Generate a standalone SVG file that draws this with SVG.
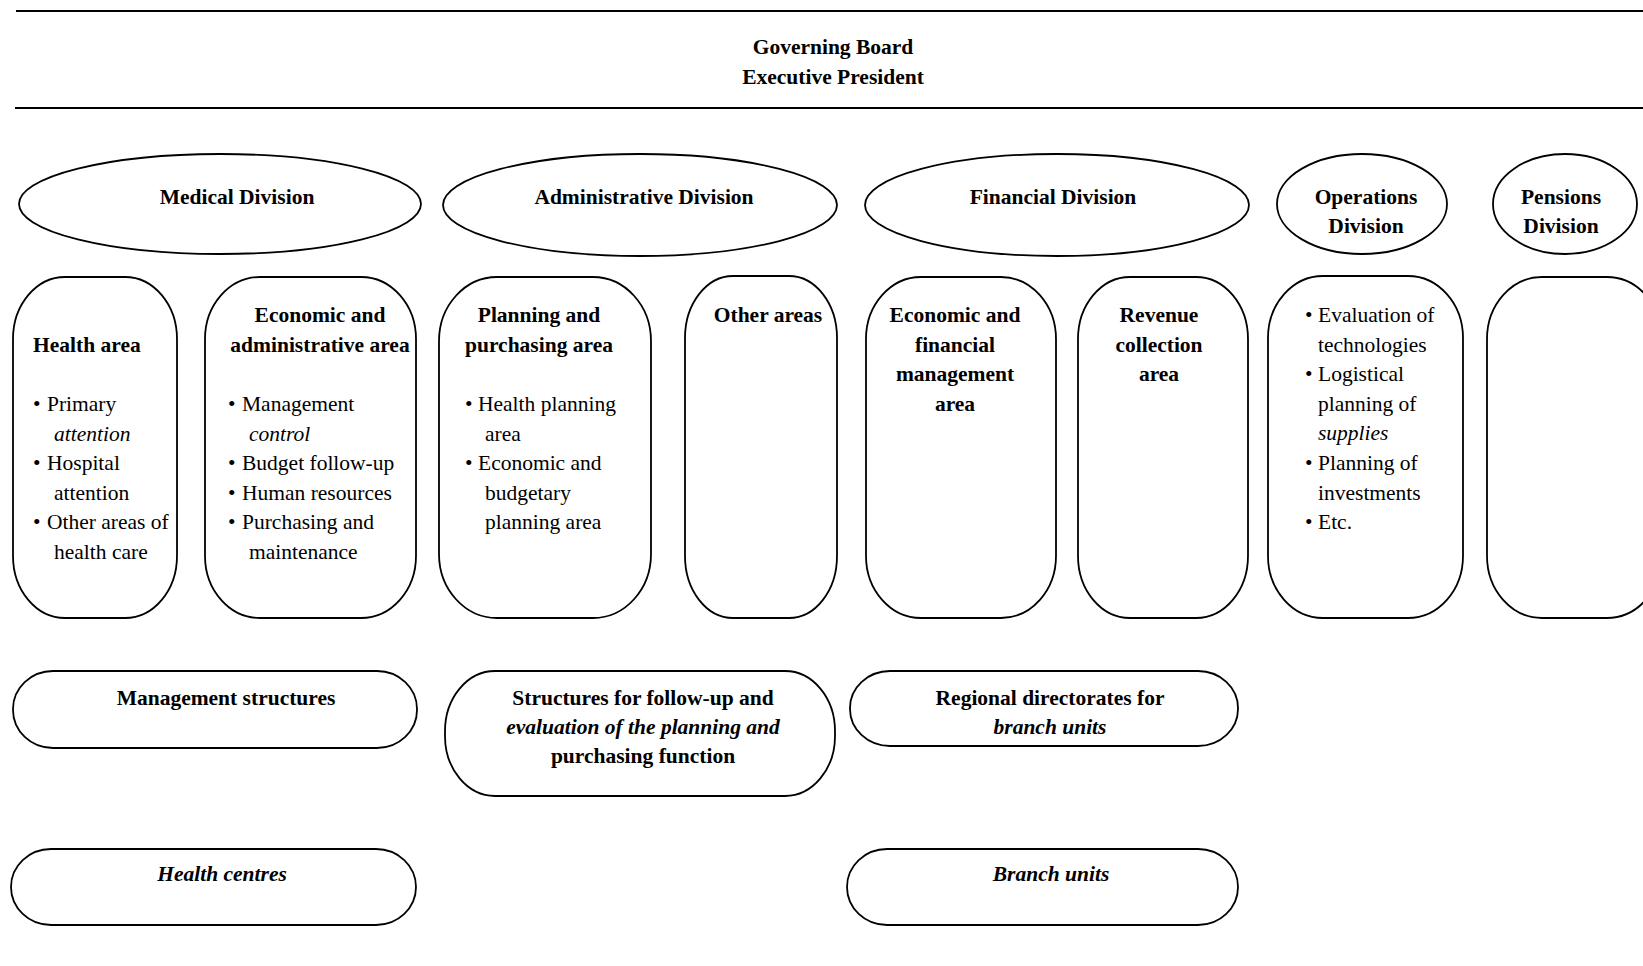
<svg xmlns="http://www.w3.org/2000/svg" width="1643" height="966" viewBox="0 0 1643 966">
<style>
.s{fill:none;stroke:#000;stroke-width:1.8}
.r{stroke:#000;stroke-width:2.2}
text{font-family:"Liberation Serif","Times New Roman",serif;font-size:21.5px;fill:#000}
.b{font-weight:bold}
.i{font-style:italic}
.c{text-anchor:middle}
</style>
<rect width="1643" height="966" fill="#fff"/>
<g id="header">
<line class="r" x1="16" y1="11" x2="1643" y2="11"/>
<line class="r" x1="15" y1="108" x2="1643" y2="108"/>
<text class="b c" x="833" y="54">Governing Board</text>
<text class="b c" x="833" y="84">Executive President</text>
</g>
<g id="medical-division">
<ellipse class="s" cx="220" cy="204" rx="201" ry="50"/>
<text class="b c" x="237" y="204">Medical Division</text>
</g>
<g id="administrative-division">
<ellipse class="s" cx="640" cy="205" rx="197" ry="51"/>
<text class="b c" x="644" y="204">Administrative Division</text>
</g>
<g id="financial-division">
<ellipse class="s" cx="1057" cy="205" rx="192" ry="51"/>
<text class="b c" x="1053" y="204">Financial Division</text>
</g>
<g id="operations-division">
<ellipse class="s" cx="1362" cy="204" rx="85" ry="50"/>
<text class="b c" x="1366" y="204">Operations</text>
<text class="b c" x="1366" y="233">Division</text>
</g>
<g id="pensions-division">
<ellipse class="s" cx="1565" cy="204" rx="72" ry="50"/>
<text class="b c" x="1561" y="204">Pensions</text>
<text class="b c" x="1561" y="233">Division</text>
</g>
<g id="health-area">
<rect class="s" x="13" y="277" width="164" height="341" rx="52" ry="62"/>
<text class="b" x="33" y="352">Health area</text>
<text x="33" y="411">•</text><text x="47" y="411">Primary</text>
<text class="i" x="54" y="440.5">attention</text>
<text x="33" y="470">•</text><text x="47" y="470">Hospital</text>
<text x="54" y="499.5">attention</text>
<text x="33" y="529">•</text><text x="47" y="529">Other areas of</text>
<text x="54" y="558.5">health care</text>
</g>
<g id="economic-administrative-area">
<rect class="s" x="205" y="277" width="211" height="341" rx="55" ry="62"/>
<text class="b c" x="320" y="322">Economic and</text>
<text class="b c" x="320" y="351.5">administrative area</text>
<text x="228" y="411">•</text><text x="242" y="411">Management</text>
<text class="i" x="249" y="440.5">control</text>
<text x="228" y="470">•</text><text x="242" y="470">Budget follow-up</text>
<text x="228" y="499.5">•</text><text x="242" y="499.5">Human resources</text>
<text x="228" y="529">•</text><text x="242" y="529">Purchasing and</text>
<text x="249" y="558.5">maintenance</text>
</g>
<g id="planning-purchasing-area">
<rect class="s" x="439" y="277" width="212" height="341" rx="58" ry="64"/>
<text class="b c" x="539" y="322">Planning and</text>
<text class="b c" x="539" y="351.5">purchasing area</text>
<text x="465" y="411">•</text><text x="478" y="411">Health planning</text>
<text x="485" y="440.5">area</text>
<text x="465" y="470">•</text><text x="478" y="470">Economic and</text>
<text x="485" y="499.5">budgetary</text>
<text x="485" y="529">planning area</text>
</g>
<g id="other-areas">
<rect class="s" x="685" y="276" width="152" height="342" rx="48" ry="62"/>
<text class="b c" x="768" y="322">Other areas</text>
</g>
<g id="economic-financial-management-area">
<rect class="s" x="866" y="277" width="190" height="341" rx="55" ry="62"/>
<text class="b c" x="955" y="322">Economic and</text>
<text class="b c" x="955" y="351.5">financial</text>
<text class="b c" x="955" y="381">management</text>
<text class="b c" x="955" y="410.5">area</text>
</g>
<g id="revenue-collection-area">
<rect class="s" x="1078" y="277" width="170" height="341" rx="52" ry="62"/>
<text class="b c" x="1159" y="322">Revenue</text>
<text class="b c" x="1159" y="351.5">collection</text>
<text class="b c" x="1159" y="381">area</text>
</g>
<g id="operations-area">
<rect class="s" x="1268" y="276" width="195" height="342" rx="55" ry="62"/>
<text x="1305" y="322">•</text><text x="1318" y="322">Evaluation of</text>
<text x="1318" y="351.6">technologies</text>
<text x="1305" y="381.2">•</text><text x="1318" y="381.2">Logistical</text>
<text x="1318" y="410.8">planning of</text>
<text class="i" x="1318" y="440.4">supplies</text>
<text x="1305" y="470">•</text><text x="1318" y="470">Planning of</text>
<text x="1318" y="499.6">investments</text>
<text x="1305" y="529.2">•</text><text x="1318" y="529.2">Etc.</text>
</g>
<g id="pensions-area">
<rect class="s" x="1487" y="277" width="175" height="341" rx="55" ry="62"/>
</g>
<g id="management-structures">
<rect class="s" x="13" y="671" width="404" height="77" rx="40" ry="38"/>
<text class="b c" x="226" y="705">Management structures</text>
</g>
<g id="follow-up-structures">
<rect class="s" x="445" y="671" width="390" height="125" rx="50" ry="60"/>
<text class="b c" x="643" y="705">Structures for follow-up and</text>
<text class="b i c" x="643" y="734">evaluation of the planning and</text>
<text class="b c" x="643" y="763">purchasing function</text>
</g>
<g id="regional-directorates">
<rect class="s" x="850" y="671" width="388" height="75" rx="40" ry="37"/>
<text class="b c" x="1050" y="705">Regional directorates for</text>
<text class="b i c" x="1050" y="734">branch units</text>
</g>
<g id="health-centres">
<rect class="s" x="11" y="849" width="405" height="76" rx="40" ry="38"/>
<text class="b i c" x="222" y="881">Health centres</text>
</g>
<g id="branch-units">
<rect class="s" x="847" y="849" width="391" height="76" rx="40" ry="38"/>
<text class="b i c" x="1051" y="881">Branch units</text>
</g>
<g id="connectors"/>
</svg>
